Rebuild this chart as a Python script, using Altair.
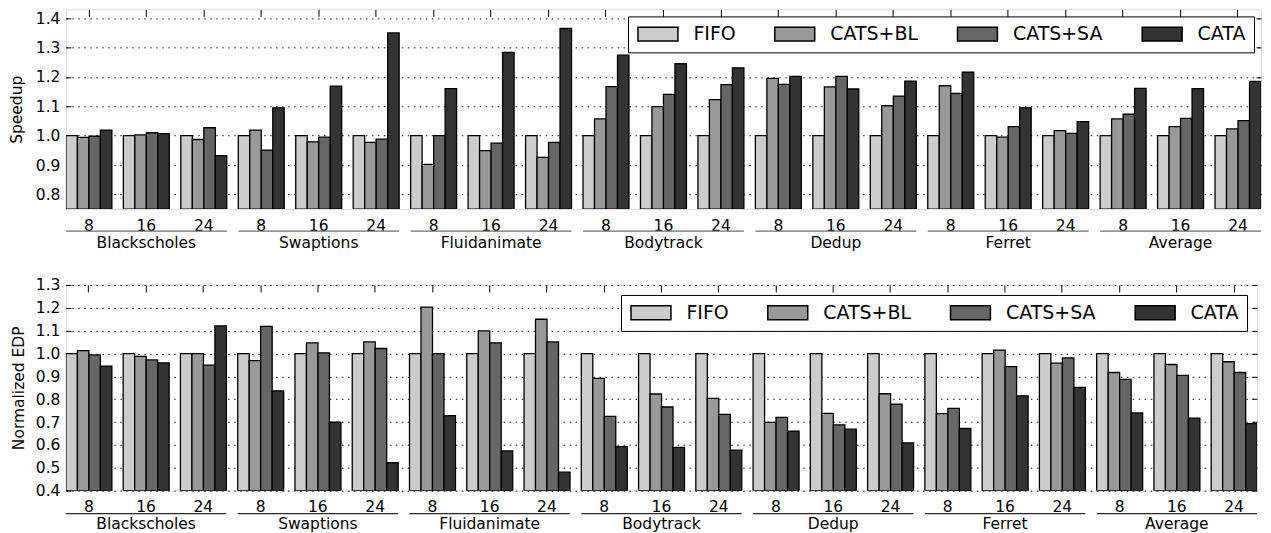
import altair as alt
import pandas as pd

FONT = "DejaVu Sans"

benchmarks = ["Blackscholes", "Swaptions", "Fluidanimate", "Bodytrack", "Dedup", "Ferret", "Average"]
cores = ["8", "16", "24"]
series = ["FIFO", "CATS+BL", "CATS+SA", "CATA"]
shades = ["#cccccc", "#999999", "#666666", "#333333"]

speedup_fifo = [1.000, 1.000, 1.000, 1.000, 1.000, 1.000, 1.000, 1.000, 1.000, 1.000, 1.000,
                1.000, 1.000, 1.000, 1.000, 1.000, 1.000, 1.000, 1.000, 1.000, 1.000]
speedup_bl = [0.994, 1.003, 0.987, 1.019, 0.979, 0.977, 0.902, 0.949, 0.926, 1.057, 1.099,
              1.123, 1.195, 1.166, 1.102, 1.170, 0.995, 1.017, 1.057, 1.031, 1.023]
speedup_sa = [0.998, 1.010, 1.027, 0.951, 0.995, 0.988, 1.000, 0.975, 0.977, 1.167, 1.141,
              1.174, 1.175, 1.202, 1.135, 1.144, 1.031, 1.008, 1.073, 1.059, 1.051]
speedup_cata = [1.019, 1.007, 0.932, 1.095, 1.169, 1.350, 1.160, 1.284, 1.365, 1.274, 1.245,
                1.231, 1.202, 1.159, 1.186, 1.216, 1.095, 1.048, 1.161, 1.160, 1.185]

edp_fifo = [1.000, 1.000, 1.000, 1.000, 1.000, 1.000, 1.000, 1.000, 1.000, 1.000, 1.000,
            1.000, 1.000, 1.000, 1.000, 1.000, 1.000, 1.000, 1.000, 1.000, 1.000]
edp_bl = [1.013, 0.988, 1.000, 0.969, 1.047, 1.051, 1.203, 1.099, 1.150, 0.891, 0.823,
          0.804, 0.699, 0.738, 0.824, 0.737, 1.015, 0.958, 0.917, 0.952, 0.964]
edp_sa = [0.994, 0.972, 0.949, 1.119, 1.003, 1.022, 1.000, 1.047, 1.051, 0.725, 0.766,
          0.734, 0.721, 0.688, 0.778, 0.760, 0.943, 0.981, 0.887, 0.904, 0.917]
edp_cata = [0.945, 0.959, 1.121, 0.837, 0.700, 0.522, 0.728, 0.574, 0.481, 0.593, 0.589,
            0.577, 0.660, 0.669, 0.609, 0.672, 0.815, 0.852, 0.740, 0.717, 0.693]

speedup_ticks = [0.8, 0.9, 1.0, 1.1, 1.2, 1.3, 1.4]
edp_ticks = [0.4, 0.5, 0.6, 0.7, 0.8, 0.9, 1.0, 1.1, 1.2, 1.3]

groups = [f"{b}|{c}" for b in benchmarks for c in cores]


def long_table(columns):
    rows = []
    for s, vals in zip(series, columns):
        for g, v in zip(groups, vals):
            rows.append({"group": g, "series": s, "value": v})
    return pd.DataFrame(rows)


spans = pd.DataFrame({
    "bench": benchmarks,
    "first": [f"{b}|{cores[0]}" for b in benchmarks],
    "last": [f"{b}|{cores[-1]}" for b in benchmarks],
})

label_expr = ("split(datum.value,'|')[1] == '16' ? "
              "[split(datum.value,'|')[1], split(datum.value,'|')[0]] : "
              "split(datum.value,'|')[1]")


def panel(df, title, domain, ticks, width, height, line_gap, title_pad,
          legend_offset, line_color):
    xscale = alt.Scale(domain=groups, paddingInner=0.2, paddingOuter=0)
    yscale = alt.Scale(domain=domain, zero=False, nice=False)

    bars = alt.Chart(df).mark_bar(stroke="black", strokeWidth=1.3, clip=True).encode(
        x=alt.X("group:N", scale=xscale, axis=alt.Axis(
            orient="bottom", labelExpr=label_expr, labelAngle=0, ticks=False,
            tickSize=0, domain=False, grid=False, labelPadding=9,
            labelFontSize=15.5, labelLineHeight=17, labelOverlap=False,
            labelBound=False, labelFont=FONT, labelColor="black", title=None)),
        xOffset=alt.XOffset("series:N", scale=alt.Scale(
            domain=series, paddingInner=0, paddingOuter=0)),
        y=alt.Y("value:Q", scale=yscale, stack=None, axis=alt.Axis(
            orient="left", values=ticks, format=".1f", offset=-5, tickSize=5,
            tickColor="black", domain=False, grid=True, gridColor="black",
            gridDash=[1.5, 4.5], gridWidth=1, gridOpacity=0.9, labelPadding=6,
            labelFontSize=15.5, labelFont=FONT, labelColor="black",
            title=title, titleFontSize=15.5, titleFont=FONT,
            titleFontWeight="normal", titleColor="black",
            titlePadding=title_pad)),
        fill=alt.Fill("series:N", scale=alt.Scale(domain=series, range=shades),
                      legend=alt.Legend(
                          title=None, orient="top-right", offset=legend_offset,
                          direction="horizontal", columns=4,
                          symbolType="M-2.857,-1H2.857V1H-2.857Z",
                          symbolSize=196, symbolOffset=12.5,
                          symbolStrokeColor="black", symbolStrokeWidth=1.5,
                          labelFontSize=19, labelFont=FONT,
                          labelColor="black", labelOffset=26, columnPadding=36,
                          padding=8, strokeColor="black", fillColor="white")),
    )

    lines = alt.Chart(spans).mark_rule(color=line_color, strokeWidth=1.3).encode(
        x=alt.X("first:N", scale=xscale, bandPosition=0, axis=None),
        x2=alt.X2("last:N", bandPosition=1),
        y=alt.value(height + line_gap),
    )

    frame_ticks = alt.Chart(df).mark_bar(opacity=0, clip=True).encode(
        x=alt.X("group:N", scale=xscale, axis=alt.Axis(
            orient="top", offset=-7, tickSize=7, tickColor="black",
            labels=False, domain=False, grid=False, title=None)),
        y=alt.Y("value:Q", scale=yscale, stack=None, axis=alt.Axis(
            orient="right", values=ticks, offset=-5, tickSize=5,
            tickColor="black", labels=False, domain=False, grid=False,
            title=None)),
    )

    return alt.layer(bars, lines, frame_ticks).resolve_axis(
        x="independent", y="independent"
    ).properties(width=width, height=height)


top = panel(long_table([speedup_fifo, speedup_bl, speedup_sa, speedup_cata]),
            "Speedup", [0.75, 1.43], speedup_ticks, 1197, 200, 22, 11, 7, "#6e6e6e")
bottom = panel(long_table([edp_fifo, edp_bl, edp_sa, edp_cata]),
               "Normalized EDP", [0.4, 1.3], edp_ticks, 1193, 206, 23, 9, 10, "#2a2a2a")

chart = alt.vconcat(top, bottom, spacing=26).resolve_scale(
    fill="independent", x="independent", y="independent"
).resolve_legend(fill="independent").properties(
    padding={"left": 0, "top": 0, "right": 0, "bottom": 0}
).configure_view(stroke="black", strokeWidth=1.3).configure(font=FONT)

chart.save("out.html", embed_options={"renderer": "svg", "actions": False})
